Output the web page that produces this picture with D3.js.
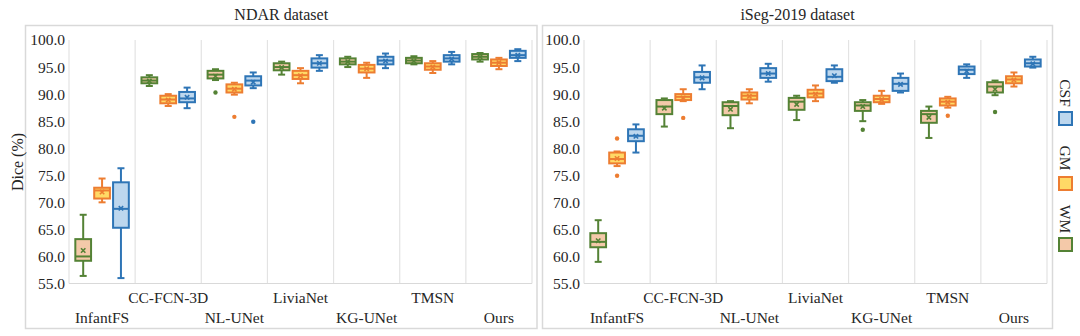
<!DOCTYPE html>
<html><head><meta charset="utf-8">
<script src="https://cdn.jsdelivr.net/npm/d3@7"></script>
<style>body{margin:0;background:#fff}svg{display:block}</style>
</head><body>
<svg id="chart" width="1080" height="336"></svg>
<script>
const categories = ["InfantFS","CC-FCN-3D","NL-UNet","LiviaNet","KG-UNet","TMSN","Ours"];
const tissues = ["WM","GM","CSF"];
const yTicks = [55,60,65,70,75,80,85,90,95,100];
// each row: [min, q1, median, q3, max, mean]
const ndarWM = [[56.4,59.2,60.0,63.2,67.7,61.1],[91.5,92.0,92.5,93.1,93.5,92.4],[92.6,92.9,93.6,94.3,94.6,93.3],[93.6,94.4,95.0,95.7,96.0,94.9],[95.0,95.5,96.0,96.6,96.9,96.0],[95.5,95.7,96.2,96.7,97.0,96.1],[96.0,96.4,96.9,97.4,97.6,96.9]];
const ndarGM = [[70.0,70.7,72.2,72.7,74.4,71.9],[87.8,88.3,89.0,89.7,90.0,88.9],[89.9,90.3,91.0,91.8,92.1,90.9],[92.0,92.8,93.5,94.3,94.8,93.4],[93.0,94.0,94.7,95.4,95.8,94.7],[93.9,94.5,95.1,95.7,96.1,95.0],[94.6,95.2,95.8,96.4,96.7,95.8]];
const ndarCSF = [[56.0,65.3,68.8,73.7,76.3,68.9],[87.4,88.5,89.2,90.4,91.2,89.4],[91.1,91.6,92.5,93.3,94.0,92.2],[94.3,94.9,95.7,96.6,97.2,95.7],[94.8,95.5,96.2,96.9,97.5,96.1],[95.5,96.0,96.6,97.2,97.8,96.5],[96.1,96.7,97.2,98.0,98.3,97.2]];
const ndarOutliers = [["NL-UNet","WM",90.3],["NL-UNet","GM",85.8],["NL-UNet","CSF",84.9]];
const isegWM = [[59.0,61.7,62.7,64.3,66.7,62.9],[84.0,86.3,87.7,88.9,89.2,87.4],[83.7,86.1,87.8,88.5,88.7,87.2],[85.2,87.1,88.6,89.3,89.7,88.1],[85.0,86.9,87.9,88.5,88.9,87.7],[81.9,84.7,86.3,86.9,87.7,85.7],[89.8,90.3,91.4,92.2,92.5,90.9]];
const isegGM = [[76.7,77.2,78.0,79.2,79.4,78.1],[88.7,88.9,89.5,90.0,90.9,89.3],[88.3,89.0,89.7,90.3,90.9,89.6],[88.7,89.4,90.1,90.8,91.6,90.0],[88.2,88.5,89.1,89.7,90.6,89.0],[87.5,87.9,88.6,89.2,89.5,88.5],[91.4,92.0,92.7,93.3,94.0,92.6]];
const isegCSF = [[79.2,81.3,82.3,83.5,84.4,82.2],[90.9,92.1,93.1,94.1,95.3,93.0],[92.3,93.0,93.8,94.8,95.6,93.8],[92.1,92.4,93.2,94.6,95.3,93.4],[90.3,90.6,91.9,93.0,93.8,91.8],[93.0,93.7,94.5,95.1,95.5,94.2],[94.9,95.1,95.7,96.4,96.9,95.6]];
const isegOutliers = [["InfantFS","GM",81.8],["InfantFS","GM",74.9],["CC-FCN-3D","GM",85.6],["KG-UNet","WM",83.4],["TMSN","GM",86.0],["Ours","WM",86.7]];

const strokeC = {WM:"#548235", GM:"#ed7d31", CSF:"#2e75b6"};
const fillC = {WM:"#f4c9a9", GM:"#ffd966", CSF:"#bdd7ee"};
const FONT = "'Liberation Serif','Times New Roman',serif";
const TXT = "#262626";

const svg = d3.select("#chart");

function panel(opts){
  const {bx0,bx1,px0,px1,title,data,outliers,yLabel} = opts;
  const top = 40, bottom = 283.5;
  const g = svg.append("g");
  g.append("rect").attr("x",bx0).attr("y",25.5).attr("width",bx1-bx0).attr("height",303)
    .attr("fill","none").attr("stroke","#d9d9d9").attr("stroke-width",1.5);
  g.append("text").attr("x",(bx0+bx1)/2).attr("y",14).attr("text-anchor","middle")
    .attr("dominant-baseline","central").attr("font-family",FONT).attr("font-size",16).attr("fill",TXT).text(title);

  const x = d3.scaleBand().domain(categories).range([px0,px1]).padding(0);
  const sub = d3.scaleBand().domain(tissues).range([-27.75,27.75]).paddingInner(0.06);
  const y = d3.scaleLinear().domain([55,100]).range([bottom,top]);

  // vertical gridlines at category boundaries
  const bounds = categories.map(c=>x(c)).concat([px1]);
  g.selectAll("line.grid").data(bounds).join("line").attr("class","grid")
    .attr("x1",d=>d).attr("x2",d=>d).attr("y1",top).attr("y2",bottom)
    .attr("stroke","#e3e3e3").attr("stroke-width",1.2);
  g.append("line").attr("x1",px0).attr("x2",px1).attr("y1",bottom).attr("y2",bottom)
    .attr("stroke","#d9d9d9").attr("stroke-width",1.2);

  // y axis
  const ya = g.append("g").attr("transform",`translate(${px0-4},0)`)
    .call(d3.axisLeft(y).tickValues(yTicks).tickFormat(d3.format(".1f")).tickSize(0).tickPadding(0));
  ya.select(".domain").remove();
  ya.selectAll("text").attr("font-family",FONT).attr("font-size",15.5).attr("fill",TXT);

  // x axis (staggered labels)
  const xa = g.append("g").attr("transform",`translate(0,${bottom})`)
    .call(d3.axisBottom(x).tickSize(0).tickPadding(0));
  xa.select(".domain").remove();
  xa.selectAll("text").attr("font-family",FONT).attr("font-size",15.5).attr("fill",TXT)
    .attr("dy",null).attr("dominant-baseline","central")
    .attr("y",(d,i)=> i%2===0 ? 33.5 : 13.5);

  if (yLabel){
    svg.append("text").attr("transform","translate(17,162) rotate(-90)").attr("text-anchor","middle")
      .attr("dominant-baseline","central").attr("font-family",FONT).attr("font-size",16).attr("fill",TXT).text(yLabel);
  }

  const boxW = sub.bandwidth();
  const capW = 7;
  tissues.forEach(t=>{
    const rows = data[t].map((r,i)=>({cat:categories[i], t, min:r[0],q1:r[1],med:r[2],q3:r[3],max:r[4],mean:r[5]}));
    const cx = d => x(d.cat)+x.bandwidth()/2 + sub(t)+boxW/2;
    const bg = g.append("g").attr("stroke",strokeC[t]).attr("stroke-width",2);
    const b = bg.selectAll("g").data(rows).join("g");
    b.append("line").attr("x1",cx).attr("x2",cx).attr("y1",d=>y(d.max)).attr("y2",d=>y(d.q3));
    b.append("line").attr("x1",cx).attr("x2",cx).attr("y1",d=>y(d.q1)).attr("y2",d=>y(d.min));
    b.append("line").attr("x1",d=>cx(d)-capW/2).attr("x2",d=>cx(d)+capW/2).attr("y1",d=>y(d.max)).attr("y2",d=>y(d.max));
    b.append("line").attr("x1",d=>cx(d)-capW/2).attr("x2",d=>cx(d)+capW/2).attr("y1",d=>y(d.min)).attr("y2",d=>y(d.min));
    b.append("rect").attr("x",d=>cx(d)-boxW/2+1).attr("width",boxW-2)
      .attr("y",d=>y(d.q3)).attr("height",d=>Math.max(1,y(d.q1)-y(d.q3))).attr("fill",fillC[t]);
    b.append("line").attr("x1",d=>cx(d)-boxW/2+1).attr("x2",d=>cx(d)+boxW/2-1).attr("y1",d=>y(d.med)).attr("y2",d=>y(d.med));
    const m = 2.2;
    b.append("path").attr("stroke-width",1.6).attr("d",d=>{const X=cx(d),Y=y(d.mean);return `M${X-m},${Y-m}L${X+m},${Y+m}M${X-m},${Y+m}L${X+m},${Y-m}`;});
  });
  g.selectAll("circle.out").data(outliers).join("circle").attr("class","out")
    .attr("cx",d=>x(d[0])+x.bandwidth()/2+sub(d[1])+boxW/2).attr("cy",d=>y(d[2])).attr("r",2.2)
    .attr("fill",d=>strokeC[d[1]]);
}

panel({bx0:25.5,bx1:537,px0:69,px1:532,title:"NDAR dataset",yLabel:"Dice (%)",
  data:{WM:ndarWM,GM:ndarGM,CSF:ndarCSF},outliers:ndarOutliers});
panel({bx0:542.5,bx1:1052.5,px0:584,px1:1047,title:"iSeg-2019 dataset",
  data:{WM:isegWM,GM:isegGM,CSF:isegCSF},outliers:isegOutliers});

// legend
const legendItems = [["CSF",93],["GM",158],["WM",219]];
const lg = svg.append("g");
legendItems.forEach(([t,yc])=>{
  lg.append("text").attr("transform",`translate(1065,${yc}) rotate(90)`).attr("text-anchor","middle")
    .attr("dominant-baseline","central").attr("font-family",FONT).attr("font-size",15.5).attr("fill",TXT).text(t);
  lg.append("rect").attr("x",1059).attr("y",yc+19).attr("width",13).attr("height",13)
    .attr("fill",fillC[t]).attr("stroke",strokeC[t]).attr("stroke-width",2);
});
</script>
</body></html>
